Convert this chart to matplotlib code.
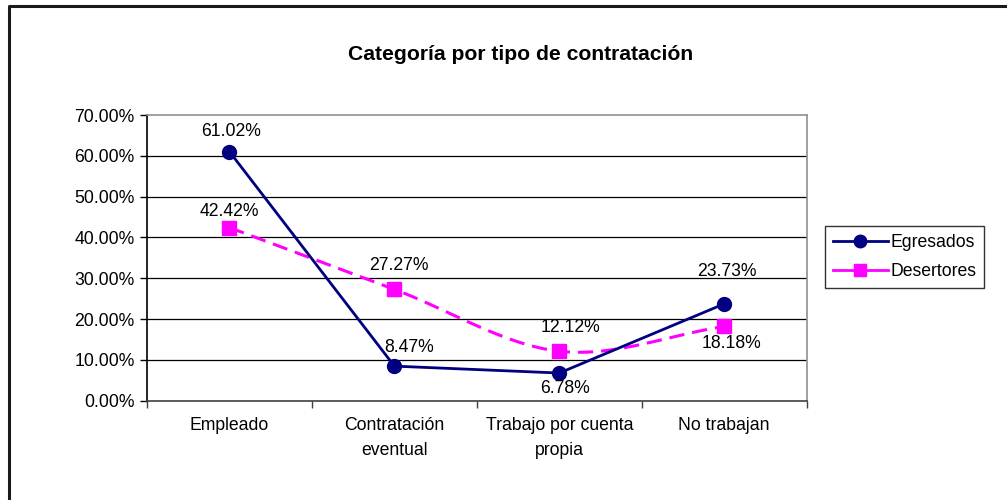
#!/usr/bin/env python3

import matplotlib
matplotlib.use("Agg")
import matplotlib.pyplot as plt
from matplotlib.lines import Line2D
import numpy as np

categories = ["Empleado", "Contratación\neventual", "Trabajo por cuenta\npropia", "No trabajan"]
egresados = [61.02, 8.47, 6.78, 23.73]
desertores = [42.42, 27.27, 12.12, 18.18]
y_ticks = [0, 10, 20, 30, 40, 50, 60, 70]

plt.rcParams['font.family'] = ['Liberation Sans', 'DejaVu Sans']


def smooth(xs, ys, n=40):
    # catmull-rom curve through the points, like excel's smoothed line
    px = np.concatenate([[2 * xs[0] - xs[1]], xs, [2 * xs[-1] - xs[-2]]])
    py = np.concatenate([[2 * ys[0] - ys[1]], ys, [2 * ys[-1] - ys[-2]]])
    out_x, out_y = [], []
    for i in range(1, len(px) - 2):
        t = np.linspace(0, 1, n)
        for p, out in ((px, out_x), (py, out_y)):
            p0, p1, p2, p3 = p[i - 1], p[i], p[i + 1], p[i + 2]
            out.extend(0.5 * ((2 * p1) + (-p0 + p2) * t
                              + (2 * p0 - 5 * p1 + 4 * p2 - p3) * t ** 2
                              + (-p0 + 3 * p1 - 3 * p2 + p3) * t ** 3))
    return out_x, out_y


def main():
    fig = plt.figure(figsize=(10.07, 5.0), dpi=100)
    ax = fig.add_axes([147 / 1007, 1 - 400.7 / 500, (806.7 - 147) / 1007, (400.7 - 115) / 500])

    x = np.arange(len(categories))
    fs = 12.7

    # gridlines
    for v in y_ticks[1:-1]:
        ax.axhline(v, color='black', lw=0.9, zorder=1)

    navy = '#000080'
    magenta = '#FF00FF'

    sx, sy = smooth(x.astype(float), np.array(desertores))
    ax.plot(sx, sy, color=magenta, lw=2.2, dashes=(5, 2.6), zorder=3)
    ax.plot(x, desertores, ls='none', marker='s', ms=9.5, color=magenta, zorder=4)

    ax.plot(x, egresados, color=navy, lw=2, marker='o', ms=10, zorder=5)

    # label offsets in pixels (dx, dy)
    egr_off = [(2, 20), (15, 19), (6, -15), (3, 32)]
    des_off = [(0, 16), (4, 24), (11, 24), (7, -17)]
    for vals, offs in ((egresados, egr_off), (desertores, des_off)):
        for i, v in enumerate(vals):
            ax.annotate(f"{v:.2f}%", (x[i], v), xytext=offs[i], textcoords='offset pixels',
                        ha='center', va='center', fontsize=fs, zorder=6)

    ax.set_xlim(-0.5, 3.5)
    ax.set_ylim(0, 70)
    ax.set_yticks(y_ticks)
    ax.set_yticklabels([f"{v:.2f}%" for v in y_ticks], fontsize=fs)
    ax.set_xticks(x)
    ax.set_xticklabels(categories, fontsize=fs, linespacing=1.55)
    ax.set_xticks(np.arange(-0.5, 4, 1), minor=True)
    ax.tick_params(axis='x', which='major', length=0, pad=12)
    ax.tick_params(axis='x', which='minor', length=5, width=1, color='#404040')
    ax.tick_params(axis='y', length=5, width=1, pad=4)

    ax.spines['left'].set_color('black')
    ax.spines['bottom'].set_color('#404040')
    ax.spines['top'].set_color('#909090')
    ax.spines['right'].set_color('#909090')
    for s in ax.spines.values():
        s.set_linewidth(1.2)

    fig.text(521 / 1007, 1 - 55 / 500, "Categoría por tipo de contratación",
             ha='center', va='center', fontsize=15.2, fontweight='bold')

    handles = [
        Line2D([], [], color=navy, lw=2, marker='o', ms=9),
        Line2D([], [], color=magenta, lw=2, marker='s', ms=8.5),
    ]
    leg = fig.legend(handles, ["Egresados", "Desertores"], loc='upper left',
                     bbox_to_anchor=(825 / 1007, 1 - 226 / 500), fontsize=fs,
                     frameon=True, fancybox=False, handlelength=3.1, handletextpad=0.15,
                     borderpad=0.45, labelspacing=0.7, borderaxespad=0)
    leg.get_frame().set_edgecolor('black')
    leg.get_frame().set_linewidth(1)

    # outer chart border (left and top)
    fig.add_artist(Line2D([9 / 1007, 9 / 1007, 1.0], [0, 1 - 6 / 500, 1 - 6 / 500],
                          transform=fig.transFigure, color='#1a1a1a', lw=2.2))

    fig.savefig('out.png', dpi=100)


if __name__ == "__main__":
    main()
